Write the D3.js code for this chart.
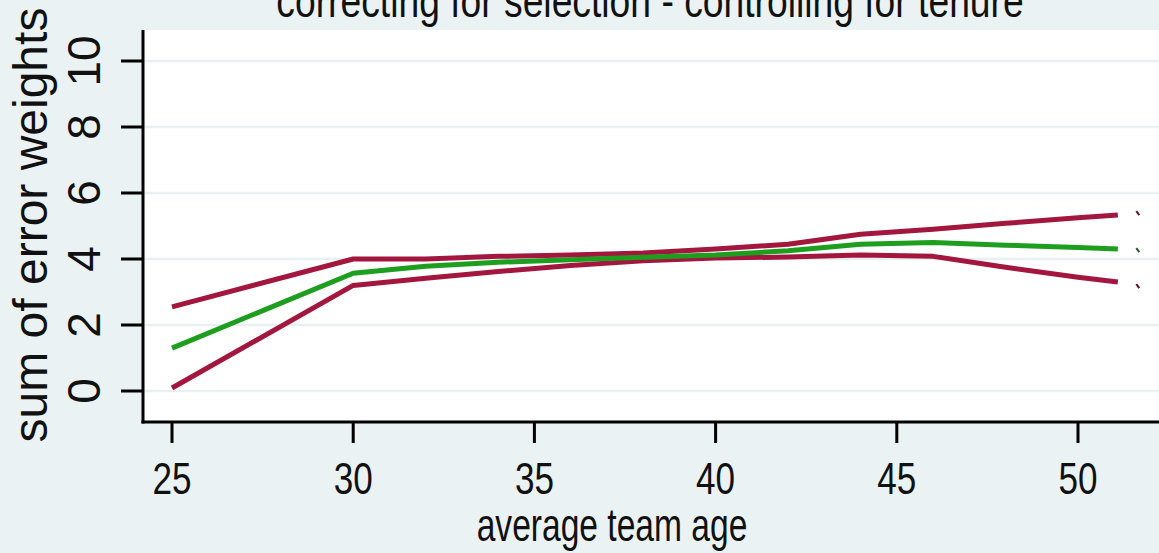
<!DOCTYPE html>
<html>
<head>
<meta charset="utf-8">
<script src="https://cdn.jsdelivr.net/npm/d3@7"></script>
<style>
  html, body { margin: 0; padding: 0; background: #eaf2f3; }
  svg { display: block; }
  text { font-family: "Liberation Sans", Arial, sans-serif; fill: #111; }
</style>
</head>
<body>
<svg id="chart" width="1159" height="553"></svg>
<script>
// data
const ages = [25, 30, 32, 34, 36, 38, 40, 42, 44, 46, 48, 50, 51.1];
const upperBound = [2.55, 4.0, 4.0, 4.08, 4.12, 4.18, 4.3, 4.45, 4.75, 4.9, 5.08, 5.25, 5.33];
const estimate = [1.3, 3.57, 3.78, 3.9, 3.98, 4.05, 4.12, 4.25, 4.45, 4.5, 4.42, 4.35, 4.3];
const lowerBound = [0.09, 3.2, 3.42, 3.62, 3.8, 3.95, 4.03, 4.06, 4.12, 4.08, 3.75, 3.45, 3.3];
// stray points past the end of the lines
const strayAge = 51.65;
const strayValues = [5.39, 4.27, 3.18];

const xTicks = [25, 30, 35, 40, 45, 50];
const yTicks = [0, 2, 4, 6, 8, 10];

const titleText = "correcting for selection - controlling for tenure";
const xLabel = "average team age";
const yLabel = "sum of error weights";

const maroon = "#a3173f";
const green = "#1e9e1e";

const svg = d3.select("#chart");
const width = 1159, height = 553;

const plot = { left: 143, top: 30, right: 1159, bottom: 422 };

const x = d3.scaleLinear().domain([25, 50]).range([172, 1078]);
const y = d3.scaleLinear().domain([0, 10]).range([391, 61]);

// background + plot region
svg.append("rect").attr("width", width).attr("height", height).attr("fill", "#eaf2f3");
svg.append("rect")
    .attr("x", plot.left).attr("y", plot.top)
    .attr("width", plot.right - plot.left).attr("height", plot.bottom - plot.top)
    .attr("fill", "#ffffff");

// grid lines
svg.append("g").selectAll("line")
    .data(yTicks)
    .join("line")
    .attr("x1", plot.left).attr("x2", plot.right)
    .attr("y1", d => y(d)).attr("y2", d => y(d))
    .attr("stroke", "#e8f0f2")
    .attr("stroke-width", 2.5);

// series lines
const line = d3.line()
    .x(d => x(d[0]))
    .y(d => y(d[1]));

const series = [
    { values: upperBound, color: maroon },
    { values: lowerBound, color: maroon },
    { values: estimate, color: green }
];

series.forEach(s => {
    svg.append("path")
        .datum(ages.map((a, i) => [a, s.values[i]]))
        .attr("d", line)
        .attr("fill", "none")
        .attr("stroke", s.color)
        .attr("stroke-width", 5)
        .attr("stroke-linejoin", "round");
});

// little leftover dots at the far right
svg.append("g").selectAll("line")
    .data(strayValues)
    .join("line")
    .attr("x1", x(strayAge) - 1.5).attr("x2", x(strayAge) + 1.5)
    .attr("y1", d => y(d) - 2).attr("y2", d => y(d) + 2)
    .attr("stroke", (d, i) => i === 1 ? "#2b5a2b" : "#5a1a33")
    .attr("stroke-width", 2);

// y axis
const yAxis = svg.append("g").attr("transform", `translate(${plot.left},0)`);
yAxis.append("line")
    .attr("x1", 0).attr("x2", 0)
    .attr("y1", plot.top).attr("y2", plot.bottom + 1.5)
    .attr("stroke", "#000").attr("stroke-width", 3);
yAxis.selectAll("line.tick")
    .data(yTicks)
    .join("line")
    .attr("class", "tick")
    .attr("x1", -22).attr("x2", 0)
    .attr("y1", d => y(d)).attr("y2", d => y(d))
    .attr("stroke", "#000").attr("stroke-width", 3);
svg.append("g").selectAll("text")
    .data(yTicks)
    .join("text")
    .attr("transform", d => `translate(100,${y(d)}) rotate(-90)`)
    .attr("text-anchor", "middle")
    .attr("font-size", 46)
    .text(d => d);

// x axis
const xAxis = svg.append("g").attr("transform", `translate(0,${plot.bottom})`);
xAxis.append("line")
    .attr("x1", plot.left - 1.5).attr("x2", plot.right)
    .attr("y1", 0).attr("y2", 0)
    .attr("stroke", "#000").attr("stroke-width", 3);
xAxis.selectAll("line.tick")
    .data(xTicks)
    .join("line")
    .attr("class", "tick")
    .attr("x1", d => x(d)).attr("x2", d => x(d))
    .attr("y1", 0).attr("y2", 21)
    .attr("stroke", "#000").attr("stroke-width", 3);
svg.append("g").selectAll("text")
    .data(xTicks)
    .join("text")
    .attr("transform", d => `translate(${x(d)},494) scale(0.78,1)`)
    .attr("text-anchor", "middle")
    .attr("font-size", 45)
    .text(d => d);

// titles
svg.append("text")
    .attr("transform", "translate(612,541) scale(0.73,1)")
    .attr("text-anchor", "middle")
    .attr("font-size", 46)
    .text(xLabel);

svg.append("text")
    .attr("transform", "translate(47,225) rotate(-90)")
    .attr("text-anchor", "middle")
    .attr("font-size", 48)
    .text(yLabel);

svg.append("text")
    .attr("transform", "translate(650,17) scale(0.81,1)")
    .attr("text-anchor", "middle")
    .attr("font-size", 46)
    .attr("fill", "#222")
    .text(titleText);
</script>
</body>
</html>
